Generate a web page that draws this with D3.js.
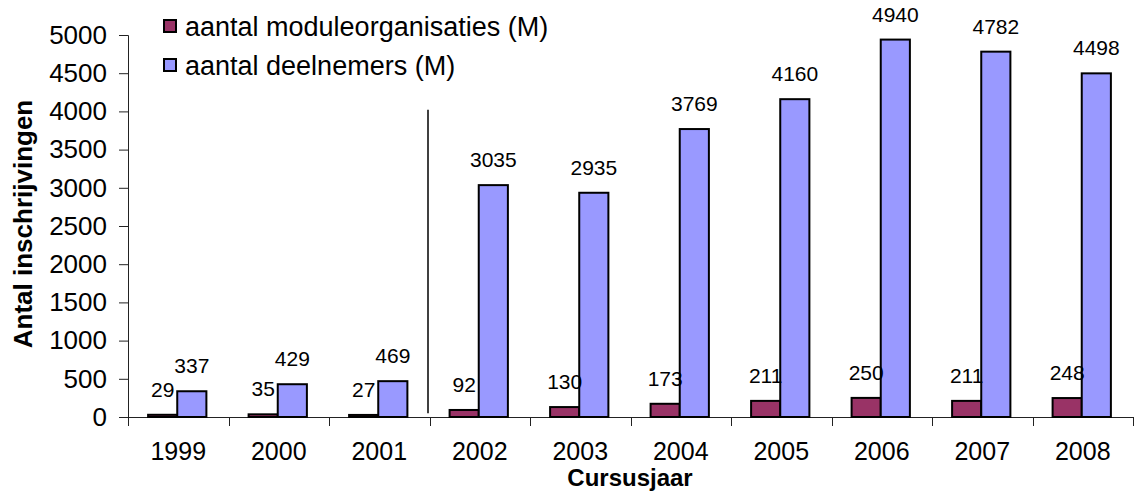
<!DOCTYPE html>
<html>
<head>
<meta charset="utf-8">
<script src="https://cdn.jsdelivr.net/npm/d3@7"></script>
<style>
  body { margin: 0; background: #fff; }
  text { font-family: "Liberation Sans", Arial, sans-serif; fill: #000; }
</style>
</head>
<body>
<div id="vis"></div>
<script>
const years = ["1999","2000","2001","2002","2003","2004","2005","2006","2007","2008"]
const seriesNames = ["aantal moduleorganisaties (M)", "aantal deelnemers (M)"]
const organisaties = [29, 35, 27, 92, 130, 173, 211, 250, 211, 248]
const deelnemers = [337, 429, 469, 3035, 2935, 3769, 4160, 4940, 4782, 4498]
const yTicks = [0, 500, 1000, 1500, 2000, 2500, 3000, 3500, 4000, 4500, 5000]
const colors = ["#993366", "#9999ff"]

const W = 1136, H = 491
const svg = d3.select("#vis").append("svg").attr("width", W).attr("height", H)

const x0 = d3.scaleBand().domain(years).range([128, 1133]).padding(0)
const x1 = d3.scaleBand().domain([0, 1])
  .range([x0.bandwidth() * 0.2, x0.bandwidth() * 0.78]).padding(0)
const y = d3.scaleLinear().domain([0, 5000]).range([417, 35])

// y axis
const yAxis = svg.append("g").attr("transform", "translate(128,0)")
  .call(d3.axisLeft(y).tickValues(yTicks).tickSize(9).tickPadding(12).tickFormat(d3.format("d")))
yAxis.selectAll("text").style("font-size", "26px")
yAxis.select(".domain").attr("d", "M-9,35.5H0.5V417.5")
yAxis.selectAll("line, path").attr("stroke", "#222")

// x axis, ticks between categories
const xAxis = svg.append("g").attr("transform", "translate(0,417)")
xAxis.append("line").attr("x1", 128).attr("x2", 1133).attr("y1", 0.5).attr("y2", 0.5).attr("stroke", "#222")
xAxis.selectAll(".tk").data(years.concat(["end"])).join("line")
  .attr("x1", (d, i) => Math.round(128 + i * x0.bandwidth()) + 0.5)
  .attr("x2", (d, i) => Math.round(128 + i * x0.bandwidth()) + 0.5)
  .attr("y1", 0).attr("y2", 9).attr("stroke", "#222")
xAxis.selectAll(".lbl").data(years).join("text")
  .attr("x", d => x0(d) + x0.bandwidth() / 2).attr("y", 43)
  .attr("text-anchor", "middle").style("font-size", "25px").text(d => d)

// bars
const rows = years.map((yr, i) => ({ year: yr, vals: [organisaties[i], deelnemers[i]] }))
const groups = svg.selectAll(".grp").data(rows).join("g")
  .attr("transform", d => `translate(${x0(d.year)},0)`)
groups.selectAll("rect").data(d => d.vals.map((v, k) => ({ v, k }))).join("rect")
  .attr("x", d => x1(d.k)).attr("width", x1.bandwidth())
  .attr("y", d => y(d.v)).attr("height", d => y(0) - y(d.v))
  .attr("fill", d => colors[d.k]).attr("stroke", "#000").attr("stroke-width", 2)
groups.selectAll("text").data(d => d.vals.map((v, k) => ({ v, k }))).join("text")
  .attr("x", d => x1(d.k) + x1.bandwidth() / 2).attr("y", d => y(d.v) - 18)
  .attr("text-anchor", "middle").style("font-size", "21px").text(d => d.v)

// separator line between 2001 and 2002
svg.append("line")
  .attr("x1", x0("2002") - 1.5).attr("x2", x0("2002") - 1.5)
  .attr("y1", y(4020)).attr("y2", y(50)).attr("stroke", "#000").attr("stroke-width", 1.5)

// axis titles
svg.append("text").attr("transform", "translate(32,224) rotate(-90)")
  .attr("text-anchor", "middle").style("font-size", "26px").style("font-weight", "bold")
  .text("Antal inschrijvingen")
svg.append("text").attr("x", 630).attr("y", 486).attr("text-anchor", "middle")
  .style("font-size", "24px").style("font-weight", "bold").text("Cursusjaar")

// legend
const legend = svg.selectAll(".leg").data(seriesNames).join("g")
  .attr("transform", (d, i) => `translate(164,${20 + i * 39})`)
legend.append("rect").attr("width", 12).attr("height", 12)
  .attr("fill", (d, i) => colors[i]).attr("stroke", "#000").attr("stroke-width", 2)
legend.append("text").attr("x", 21).attr("y", 16).style("font-size", "27px").text(d => d)
</script>
</body>
</html>
